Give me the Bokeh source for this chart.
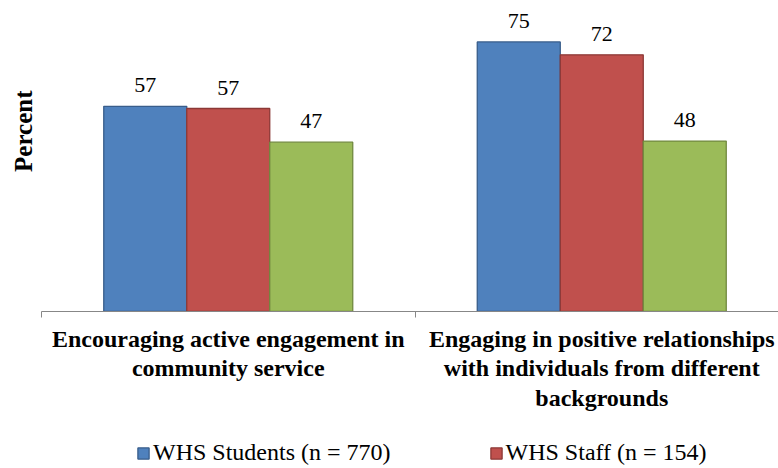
import numpy as np
from bokeh.plotting import figure
from bokeh.layouts import column
from bokeh.models import (FixedTicker, Title, Legend, LegendItem, Range1d,
                          ColumnDataSource)
from bokeh.core.properties import value
from bokeh.embed import file_html
from bokeh.resources import INLINE

# ---- data -------------------------------------------------------------
categories = [
    "Encouraging active engagement in\ncommunity service",
    "Engaging in positive relationships\nwith individuals from different\nbackgrounds",
]
legend_labels = ["WHS Students (n = 770)", "WHS Staff (n = 154)"]
students = [57.3, 75.3]
staff = [56.7, 71.7]
third_group = [47.3, 47.6]   # green series (its legend entry is cut off in the original)
y_title = "Percent"

# ---- styling -----------------------------------------------------------
fills = ["#4F81BD", "#C0504D", "#9BBB59"]
edges = ["#385D8A", "#8C3836", "#71893F"]
bar_w = 0.2222
offsets = [-bar_w, 0.0, bar_w]
FONT = "Liberation Serif"

p = figure(width=778, height=418, output_backend="svg", toolbar_location=None,
           x_range=Range1d(-0.5, 1.4732), y_range=Range1d(0, 86.87),
           min_border_left=41, min_border_right=0, min_border_top=0,
           min_border_bottom=107)
p.outline_line_color = None
p.grid.visible = False
p.yaxis.visible = False

xs = np.arange(len(categories))
for vals, fc, lc, off in zip([students, staff, third_group], fills, edges, offsets):
    src = ColumnDataSource(dict(x=xs + off, top=vals,
                                lab=[f"{round(v)}" for v in vals]))
    p.vbar(x="x", top="top", width=bar_w, bottom=0, source=src,
           fill_color=fc, line_color=lc, line_width=1.3)
    p.text(x="x", y="top", text="lab", source=src, y_offset=-21,
           text_align="center", text_baseline="alphabetic",
           text_font=value(FONT), text_font_size="22px", text_color="black")

ax = p.xaxis[0]
ax.ticker = FixedTicker(ticks=list(range(len(categories))),
                        minor_ticks=[-0.5, 0.5, 1.5])
ax.major_label_overrides = {i: c for i, c in enumerate(categories)}
ax.major_tick_out = 0
ax.major_tick_in = 0
ax.minor_tick_out = 6
ax.minor_tick_in = 0
ax.minor_tick_line_color = "#878787"
ax.axis_line_color = "#878787"
ax.axis_line_width = 1
ax.major_label_standoff = 8
ax.major_label_text_font = FONT
ax.major_label_text_font_style = "bold"
ax.major_label_text_font_size = "24px"
ax.major_label_text_line_height = 1.15
ax.major_label_text_color = "black"

p.add_layout(Title(text=y_title, align="right", offset=90, standoff=10,
                   text_font=FONT, text_font_style="bold",
                   text_font_size="25px", text_color="black"), "left")

# ---- legend strip ------------------------------------------------------
p2 = figure(width=778, height=50, output_backend="svg", toolbar_location=None,
            x_axis_type=None, y_axis_type=None,
            x_range=Range1d(0, 1), y_range=Range1d(0, 1),
            min_border_left=41, min_border_right=0, min_border_top=0,
            min_border_bottom=0)
p2.outline_line_color = None
items = []
for lab, fc, lc in zip(legend_labels, fills, edges):
    # empty placeholder bar (NaN height): only its legend swatch is drawn
    r = p2.vbar(x=[0.5], top=[float("nan")], bottom=[float("nan")], width=0.1,
                fill_color=fc, line_color=lc, line_width=1.3)
    items.append(LegendItem(label=lab, renderers=[r]))

legend = Legend(items=items, orientation="horizontal", location=(95, 2),
                spacing=98, glyph_width=14, glyph_height=14, label_standoff=3,
                padding=0, margin=0, border_line_color=None,
                background_fill_alpha=0, label_text_font=FONT,
                label_text_font_size="24px", label_text_color="black")
p2.add_layout(legend, "center")

open("out.html", "w").write(file_html(column(p, p2, spacing=0), INLINE))
